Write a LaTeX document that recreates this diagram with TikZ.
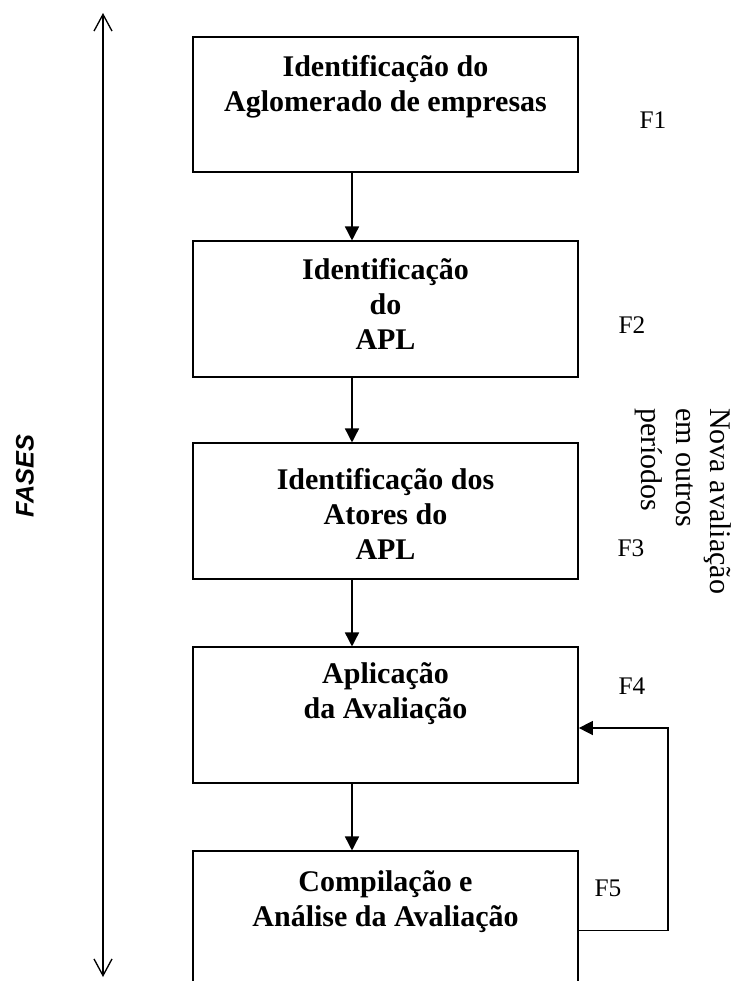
\documentclass[tikz,border=0pt]{standalone}
\usepackage{fontspec}
\setmainfont{Liberation Serif}
\newfontfamily\arialfont{Liberation Sans}
\usetikzlibrary{arrows.meta,calc}
\begin{document}
\begin{tikzpicture}[x=0.75pt,y=-0.75pt,
  phase/.style={draw, line width=1.3pt, minimum width=288.75pt,
    minimum height=101.5pt, inner sep=0pt},
  phasetext/.style={anchor=north, align=center, inner sep=0pt,
    font=\bfseries\fontsize{22.5}{26.25}\selectfont},
  flow/.style={line width=1.1pt, -{Triangle[length=10.5pt,width=10.5pt]}},
  tag/.style={font=\fontsize{19}{22}\selectfont, inner sep=0pt},
  barb/.style={line width=1pt,
    {Straight Barb[length=12.5pt,width=13.5pt]}-{Straight Barb[length=12.5pt,width=13.5pt]}},
]
\path[use as bounding box] (0,0) rectangle (735,981);
\clip (0,0) rectangle (735,981);

% phase boxes
\node[phase] (b1) at (385.5,104.5) {};
\node[phase] (b2) at (385.5,309) {};
\node[phase] (b3) at (385.5,511) {};
\node[phase] (b4) at (385.5,715) {};
\node[phase] (b5) at (385.5,919) {};

% box captions
\node[phasetext] (t1) at ($(b1.north)+(0,19)$) {Identificação do\\Aglomerado de empresas};
\node[phasetext] (t2) at ($(b2.north)+(0,18)$) {Identificação\\do\\APL};
\node[phasetext] (t3) at ($(b3.north)+(0,26)$) {Identificação dos\\Atores do\\APL};
\node[phasetext] (t4) at ($(b4.north)+(0,16)$) {Aplicação\\da Avaliação};
\node[phasetext] (t5) at ($(b5.north)+(0,20)$) {Compilação e\\Análise da Avaliação};

% phase tags
\node[tag] (f1) at (653,120) {F1};
\node[tag] (f2) at (632,325) {F2};
\node[tag] (f3) at (631,548) {F3};
\node[tag] (f4) at (632,686) {F4};
\node[tag] (f5) at (608,888) {F5};

% vertical flow between phases
\coordinate (spine) at (352,0);
\draw[flow] (b1.south -| spine) -- (b2.north -| spine);
\draw[flow] (b2.south -| spine) -- (b3.north -| spine);
\draw[flow] (b3.south -| spine) -- (b4.north -| spine);
\draw[flow] (b4.south -| spine) -- (b5.north -| spine);

% feedback loop from F5 back to F4
\coordinate (fbout) at ($(b5.north east)+(0,80)$);
\coordinate (fbin) at ($(b4.east)+(0,13)$);
\coordinate (loop) at (668,0);
\draw[flow] (fbout) -- (fbout -| loop) -- (loop |- fbin) -- (fbin);

% rotated note on the right
\node[rotate=-90, anchor=north west, align=left, inner sep=0pt,
  font=\fontsize{22.5}{26}\selectfont] (renew) at (732,408)
  {Nova avaliação\\em outros\\períodos};

% phases axis on the left
\coordinate (axtop) at (103,13);
\coordinate (axbot) at (103,977);
\draw[barb] (axtop) -- (axbot);
\node[rotate=90, inner sep=0pt,
  font=\arialfont\bfseries\itshape\fontsize{19}{22}\selectfont] (fases) at (25,476) {FASES};
\end{tikzpicture}
\end{document}
